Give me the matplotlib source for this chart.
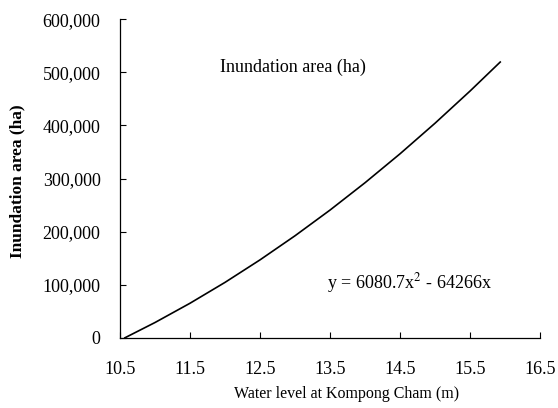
import matplotlib.pyplot as plt
from matplotlib.ticker import FuncFormatter

# points
water_level = [10.57, 11.0, 11.5, 12.0, 12.5, 13.0, 13.5, 14.0, 14.5, 15.0, 15.5, 15.93]
inundation_area = [0, 28800, 65100, 104400, 146800, 192200, 240600, 292100, 346600, 404200, 464800, 519300]

x_ticks = [10.5, 11.5, 12.5, 13.5, 14.5, 15.5, 16.5]
y_ticks = [0, 100000, 200000, 300000, 400000, 500000, 600000]

plt.rcParams['font.family'] = ['Liberation Serif', 'DejaVu Serif']

fig = plt.figure(figsize=(5.58, 4.08), dpi=100)
ax = fig.add_axes([0.215, 0.172, 0.753, 0.781])

ax.plot(water_level, inundation_area, color='black', lw=1.2)

ax.set_xlim(10.5, 16.5)
ax.set_ylim(0, 600000)
ax.set_xticks(x_ticks)
ax.set_yticks(y_ticks)
ax.xaxis.set_major_formatter(FuncFormatter(lambda v, p: f'{v:.1f}'))
ax.yaxis.set_major_formatter(FuncFormatter(lambda v, p: f'{int(v):,}'))
ax.tick_params(axis='both', direction='in', length=4, width=0.8, labelsize=13)
ax.tick_params(axis='y', pad=14)
ax.tick_params(axis='x', pad=17)

for side in ['top', 'right']:
    ax.spines[side].set_visible(False)
for side in ['left', 'bottom']:
    ax.spines[side].set_linewidth(0.9)

ax.set_xlabel('Water level at Kompong Cham (m)', fontsize=11.5)
ax.xaxis.set_label_coords(0.54, -0.15)
ax.set_ylabel('Inundation area (ha)', fontsize=12.5, fontweight='bold')
ax.yaxis.set_label_coords(-0.225, 0.49)

ax.text(0.238, 0.85, 'Inundation area (ha)', transform=ax.transAxes, fontsize=13,
        va='center')
ax.text(0.493, 0.172, 'y = 6080.7x$^2$ - 64266x', transform=ax.transAxes, fontsize=13,
        va='center', math_fontfamily='stix')

fig.savefig('out.png', dpi=100)
